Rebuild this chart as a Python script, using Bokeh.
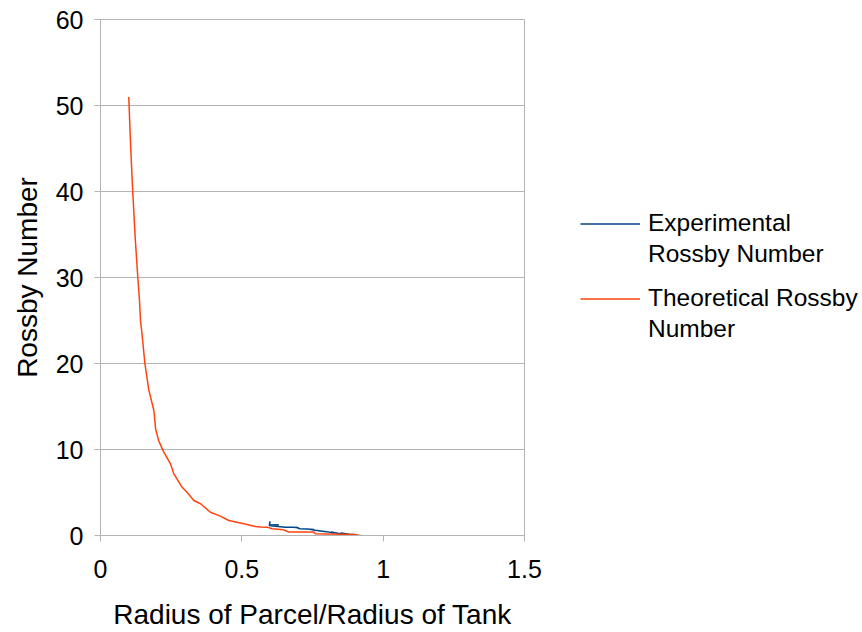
from bokeh.plotting import figure
from bokeh.layouts import row
from bokeh.models import Range1d, Legend, LegendItem, FixedTicker
from bokeh.embed import file_html
from bokeh.resources import INLINE

# Experimental Rossby number
exp_x = [0.631, 0.598, 0.600, 0.597, 0.612, 0.654, 0.680, 0.701, 0.690, 0.705, 0.730,
         0.755, 0.740, 0.760, 0.784, 0.770, 0.800, 0.825, 0.815, 0.840, 0.861, 0.850,
         0.880, 0.908]
exp_y = [1.24, 1.22, 1.65, 1.16, 1.10, 0.97, 0.95, 0.90, 0.95, 0.78, 0.75,
         0.70, 0.72, 0.60, 0.50, 0.55, 0.45, 0.30, 0.40, 0.25, 0.20, 0.28,
         0.15, 0.08]

# Theoretical Rossby number
th_x = [0.100, 0.107, 0.114, 0.123, 0.132, 0.138, 0.1415, 0.147, 0.157, 0.171, 0.189,
        0.195, 0.206, 0.224, 0.248, 0.259, 0.289, 0.307, 0.330, 0.354, 0.389, 0.424,
        0.454, 0.483, 0.507, 0.548, 0.566, 0.590, 0.607, 0.648, 0.654, 0.666, 0.755,
        0.760, 0.896, 0.920]
th_y = [51.0, 45.0, 40.0, 34.5, 30.0, 27.3, 25.0, 23.4, 20.0, 16.9, 14.5,
        12.4, 11.0, 9.7, 8.3, 7.2, 5.6, 5.0, 4.07, 3.69, 2.70, 2.25,
        1.74, 1.55, 1.36, 1.05, 1.00, 0.97, 0.78, 0.66, 0.58, 0.40, 0.40,
        0.20, 0.12, 0.0]

x_ticks = [0, 0.5, 1, 1.5]
y_ticks = [0, 10, 20, 30, 40, 50, 60]

FONT = "Liberation Sans"
GRID = "#b3b3b3"
BLUE = "#004586"
ORANGE = "#ff420e"

p = figure(width=560, height=632, output_backend="svg", toolbar_location=None,
           x_range=Range1d(0, 1.5), y_range=Range1d(0, 60),
           min_border_left=100, min_border_right=36, min_border_top=19,
           min_border_bottom=97)
p.outline_line_color = GRID
p.background_fill_color = "white"
p.border_fill_color = "white"

p.xgrid.grid_line_color = None
p.ygrid.grid_line_color = GRID
p.ygrid.grid_line_width = 1

p.xaxis.ticker = FixedTicker(ticks=x_ticks)
p.yaxis.ticker = FixedTicker(ticks=y_ticks)
p.xaxis.major_label_overrides = {0: "0", 0.5: "0.5", 1: "1", 1.5: "1.5"}

for ax in (p.xaxis, p.yaxis):
    ax.axis_line_color = GRID
    ax.major_tick_line_color = GRID
    ax.major_tick_in = 0
    ax.major_tick_out = 6
    ax.minor_tick_line_color = None
    ax.major_label_text_font = FONT
    ax.major_label_text_font_size = "25px"
    ax.major_label_text_color = "black"
    ax.axis_label_text_font = FONT
    ax.axis_label_text_font_size = "28px"
    ax.axis_label_text_font_style = "normal"
    ax.axis_label_text_color = "black"

p.xaxis.axis_label = "Radius of Parcel/Radius of Tank"
p.yaxis.axis_label = "Rossby Number"
p.xaxis.major_label_standoff = 18
p.yaxis.major_label_standoff = 11
p.xaxis.axis_label_standoff = 18
p.yaxis.axis_label_standoff = 10

p.line(exp_x, exp_y, line_color=BLUE, line_width=1.5)
p.line(th_x, th_y, line_color=ORANGE, line_width=1.5)

# legend panel (its frame is aligned with the chart's frame by the row layout)
q = figure(width=302, height=632, output_backend="svg", toolbar_location=None,
           x_axis_type=None, y_axis_type=None, min_border=0,
           x_range=Range1d(0, 1), y_range=Range1d(0, 1))
q.outline_line_color = None
q.background_fill_color = "white"
q.border_fill_color = "white"
q.xgrid.visible = False
q.ygrid.visible = False
l_exp = q.line([-5, -4], [-5, -4], line_color=BLUE, line_width=1.5)
l_th = q.line([-5, -4], [-5, -4], line_color=ORANGE, line_width=1.5)
l_blank = q.line([-5, -4], [-5, -4], line_alpha=0)

def make_legend(items, vy):
    lg = Legend(items=items, location=(20, vy), margin=0, padding=0,
                spacing=0, glyph_width=60, glyph_height=31, label_height=31,
                label_standoff=8, label_text_font=FONT, label_text_font_size="24.5px",
                label_text_color="black", border_line_alpha=0,
                background_fill_alpha=0)
    q.add_layout(lg)

make_legend([LegendItem(label="Experimental", renderers=[l_exp]),
             LegendItem(label="Rossby Number", renderers=[l_blank])], 265.5)
make_legend([LegendItem(label="Theoretical Rossby", renderers=[l_th]),
             LegendItem(label="Number", renderers=[l_blank])], 190.5)

layout = row(p, q, spacing=0)
open("out.html", "w").write(file_html(layout, INLINE))
